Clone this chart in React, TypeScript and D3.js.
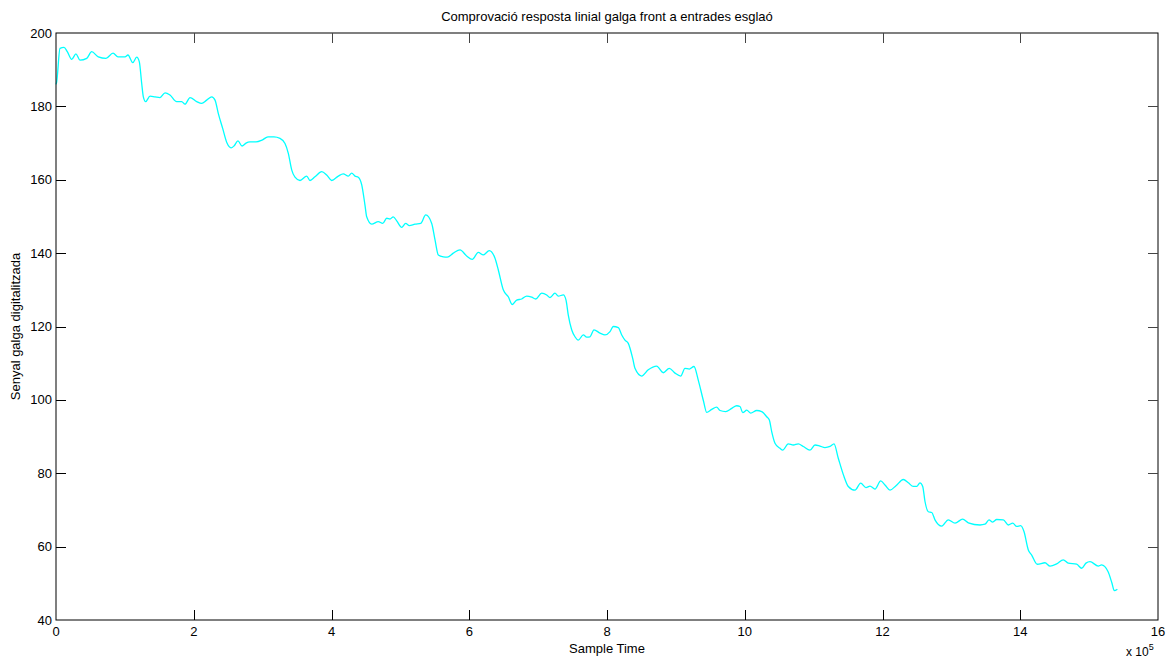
import React, { useEffect, useRef } from 'react';
import * as d3 from 'd3';

// sample time in units of 1e5
const sampleTime = [
  0, 0.01, 0.058, 0.116, 0.164, 0.228, 0.29, 0.348, 0.446, 0.518, 0.614, 0.726, 0.828, 0.9, 1.002, 1.045,
  1.114, 1.172, 1.209, 1.244, 1.268, 1.302, 1.365, 1.437, 1.51, 1.583, 1.655, 1.752, 1.825, 1.873, 1.946,
  2.043, 2.115, 2.188, 2.261, 2.309, 2.356, 2.42, 2.483, 2.541, 2.584, 2.642, 2.701, 2.759, 2.817, 2.904,
  2.991, 3.078, 3.165, 3.252, 3.325, 3.373, 3.422, 3.47, 3.543, 3.64, 3.688, 3.76, 3.858, 3.93, 4.003,
  4.099, 4.171, 4.244, 4.293, 4.341, 4.389, 4.439, 4.486, 4.511, 4.584, 4.68, 4.743, 4.802, 4.849, 4.897,
  4.947, 5.019, 5.077, 5.13, 5.212, 5.295, 5.368, 5.455, 5.503, 5.551, 5.623, 5.681, 5.768, 5.866, 5.963,
  6.044, 6.131, 6.204, 6.291, 6.374, 6.422, 6.494, 6.567, 6.625, 6.689, 6.762, 6.834, 6.907, 6.965, 7.052,
  7.125, 7.172, 7.245, 7.293, 7.366, 7.405, 7.438, 7.487, 7.535, 7.583, 7.656, 7.705, 7.753, 7.811, 7.898,
  7.971, 8.044, 8.092, 8.164, 8.214, 8.261, 8.309, 8.373, 8.406, 8.503, 8.599, 8.721, 8.817, 8.904, 8.987,
  9.07, 9.132, 9.195, 9.263, 9.325, 9.398, 9.447, 9.52, 9.592, 9.641, 9.723, 9.811, 9.883, 9.931, 9.971,
  10.029, 10.087, 10.174, 10.246, 10.319, 10.357, 10.392, 10.439, 10.512, 10.551, 10.632, 10.705, 10.777,
  10.85, 10.947, 11.02, 11.092, 11.165, 11.238, 11.296, 11.358, 11.441, 11.503, 11.601, 11.683, 11.76,
  11.818, 11.891, 11.974, 12.036, 12.109, 12.196, 12.302, 12.375, 12.447, 12.497, 12.544, 12.584, 12.617,
  12.665, 12.715, 12.762, 12.86, 12.955, 13.053, 13.164, 13.246, 13.416, 13.488, 13.546, 13.6, 13.658,
  13.754, 13.827, 13.891, 13.949, 14.006, 14.054, 14.117, 14.166, 14.248, 14.359, 14.432, 14.529, 14.625,
  14.697, 14.819, 14.892, 14.954, 15.013, 15.133, 15.18, 15.274, 15.332, 15.365, 15.41,
];

const signal = [
  186, 186.7, 195.8, 196.1, 194.9, 192.8, 194.3, 192.6, 193.1, 194.9, 193.5, 193.1, 194.5, 193.5, 193.5, 194,
  191.9, 193.4, 192.2, 186.3, 182.6, 181.3, 182.8, 182.6, 182.4, 183.7, 183.1, 181.3, 181.3, 180.6, 182.4,
  181.3, 180.8, 181.7, 182.6, 181.7, 178.1, 174, 170, 168.7, 169.2, 170.6, 169.2, 170, 170.3, 170.3,
  170.8, 171.7, 171.7, 171.3, 169.9, 167.2, 162.7, 160.7, 159.8, 161, 159.8, 160.8, 162.2, 161.3, 159.8,
  161, 161.6, 161, 161.8, 161, 160.7, 158.6, 153.1, 149.9, 147.9, 148.6, 148.1, 149.5, 149.3, 149.9,
  148.8, 147, 148.1, 147.5, 147.9, 148.1, 150.4, 148.1, 143.6, 139.5, 139, 138.9, 140, 140.9, 139.2,
  138.3, 140.2, 139.5, 140.7, 138.6, 135.4, 130, 128.1, 126, 127.2, 127.5, 128.3, 128, 127.5, 129.1,
  128.6, 127.9, 129.1, 128.3, 128.6, 127.2, 123.1, 119.1, 117.2, 116.3, 117.7, 117.1, 117.2, 119.1, 118.2,
  117.7, 118.6, 120, 119.7, 117.7, 116.3, 115.4, 111.3, 108.6, 106.5, 108.2, 109.2, 107.4, 108.6, 107.3,
  106.5, 108.6, 108.4, 109.1, 105.4, 99.9, 96.6, 97.4, 98, 97.1, 96.8, 97.7, 98.4, 98.2, 96.5,
  97.2, 96.4, 97.1, 96.8, 95.4, 94.5, 91.3, 88.2, 86.8, 86.3, 88, 87.7, 88,
  87.3, 86.3, 87.7, 87.4, 87, 87.3, 88, 84.1, 79.1, 76.4, 75.4, 77.3, 76.1,
  76.5, 75.7, 77.9, 76.8, 75.4, 76.6, 78.3, 77.4, 76.4, 76.4, 77.4, 76.4, 72.3,
  69.5, 69.3, 67.3, 65.6, 67.3, 66.4, 67.5, 66.5, 65.9, 66.1, 67.3, 66.7, 67.4,
  67.3, 65.9, 66.4, 65.5, 65.7, 64.1, 59.1, 57.7, 55.2, 55.6, 54.7, 55.3, 56.4,
  55.5, 55.2, 54.1, 55.5, 55.9, 54.7, 55, 53.2, 50, 48, 48.4,
];

const xTicks = [0, 2, 4, 6, 8, 10, 12, 14, 16];
const yTicks = [40, 60, 80, 100, 120, 140, 160, 180, 200];

const title = 'Comprovació resposta linial galga front a entrades esglaó';
const xLabel = 'Sample Time';
const yLabel = 'Senyal galga digitalitzada';

const W = 1166;
const H = 659;
const margin = { left: 56, right: 8, top: 33, bottom: 39 };
const FONT = '"Liberation Sans", Arial, Helvetica, sans-serif';

export default function App() {
  const svgRef = useRef<SVGSVGElement | null>(null);

  useEffect(() => {
    const svg = d3.select(svgRef.current);
    svg.selectAll('*').remove();

    const x0 = margin.left;
    const x1 = W - margin.right;
    const y0 = margin.top;
    const y1 = H - margin.bottom;

    const x = d3.scaleLinear().domain([0, 16]).range([x0, x1]);
    const y = d3.scaleLinear().domain([40, 200]).range([y1, y0]);

    const g = svg.append('g');

    // data line
    const pts = sampleTime.map((t, i) => [t, signal[i]] as [number, number]);
    const line = d3.line<[number, number]>()
      .x(d => x(d[0]))
      .y(d => y(d[1]))
      .curve(d3.curveMonotoneX);

    g.append('path')
      .datum(pts)
      .attr('d', line)
      .attr('fill', 'none')
      .attr('stroke', '#00ffff')
      .attr('stroke-width', 1.3);

    // box
    g.append('rect')
      .attr('x', x0).attr('y', y0)
      .attr('width', x1 - x0).attr('height', y1 - y0)
      .attr('fill', 'none')
      .attr('stroke', '#000')
      .attr('stroke-width', 1);

    const tickLen = 10;

    // x ticks (bottom + top, inward)
    xTicks.forEach(t => {
      const px = Math.round(x(t)) + 0.5;
      if (t !== 0 && t !== 16) {
        g.append('line').attr('x1', px).attr('x2', px).attr('y1', y1).attr('y2', y1 - tickLen)
          .attr('stroke', '#000');
        g.append('line').attr('x1', px).attr('x2', px).attr('y1', y0).attr('y2', y0 + tickLen)
          .attr('stroke', '#444');
      }
      g.append('text')
        .attr('x', x(t)).attr('y', y1 + 16)
        .attr('text-anchor', 'middle')
        .attr('font-family', FONT).attr('font-size', 13)
        .text(String(t));
    });

    // y ticks (left + right, inward)
    yTicks.forEach(t => {
      const py = Math.round(y(t)) + 0.5;
      if (t !== 40 && t !== 200) {
        g.append('line').attr('x1', x0).attr('x2', x0 + tickLen).attr('y1', py).attr('y2', py)
          .attr('stroke', '#000');
        g.append('line').attr('x1', x1).attr('x2', x1 - tickLen).attr('y1', py).attr('y2', py)
          .attr('stroke', '#444');
      }
      g.append('text')
        .attr('x', x0 - 4).attr('y', y(t) + 4.5)
        .attr('text-anchor', 'end')
        .attr('font-family', FONT).attr('font-size', 13)
        .text(String(t));
    });

    // exponent
    const ex = g.append('text')
      .attr('x', 1126).attr('y', 656)
      .attr('font-family', FONT).attr('font-size', 12);
    ex.append('tspan').text('x 10');
    ex.append('tspan').attr('dy', -6).attr('font-size', 9).text('5');

    // title
    g.append('text')
      .attr('x', (x0 + x1) / 2).attr('y', 21)
      .attr('text-anchor', 'middle')
      .attr('font-family', FONT).attr('font-size', 13)
      .text(title);

    // axis labels
    g.append('text')
      .attr('x', (x0 + x1) / 2).attr('y', 653)
      .attr('text-anchor', 'middle')
      .attr('font-family', FONT).attr('font-size', 13)
      .text(xLabel);

    g.append('text')
      .attr('transform', `translate(20,${(y0 + y1) / 2}) rotate(-90)`)
      .attr('text-anchor', 'middle')
      .attr('font-family', FONT).attr('font-size', 13)
      .text(yLabel);
  }, []);

  return (
    <div style={{ position: 'fixed', left: 0, top: 0, width: W, height: H, background: '#fff' }}>
      <svg ref={svgRef} width={W} height={H} />
    </div>
  );
}
